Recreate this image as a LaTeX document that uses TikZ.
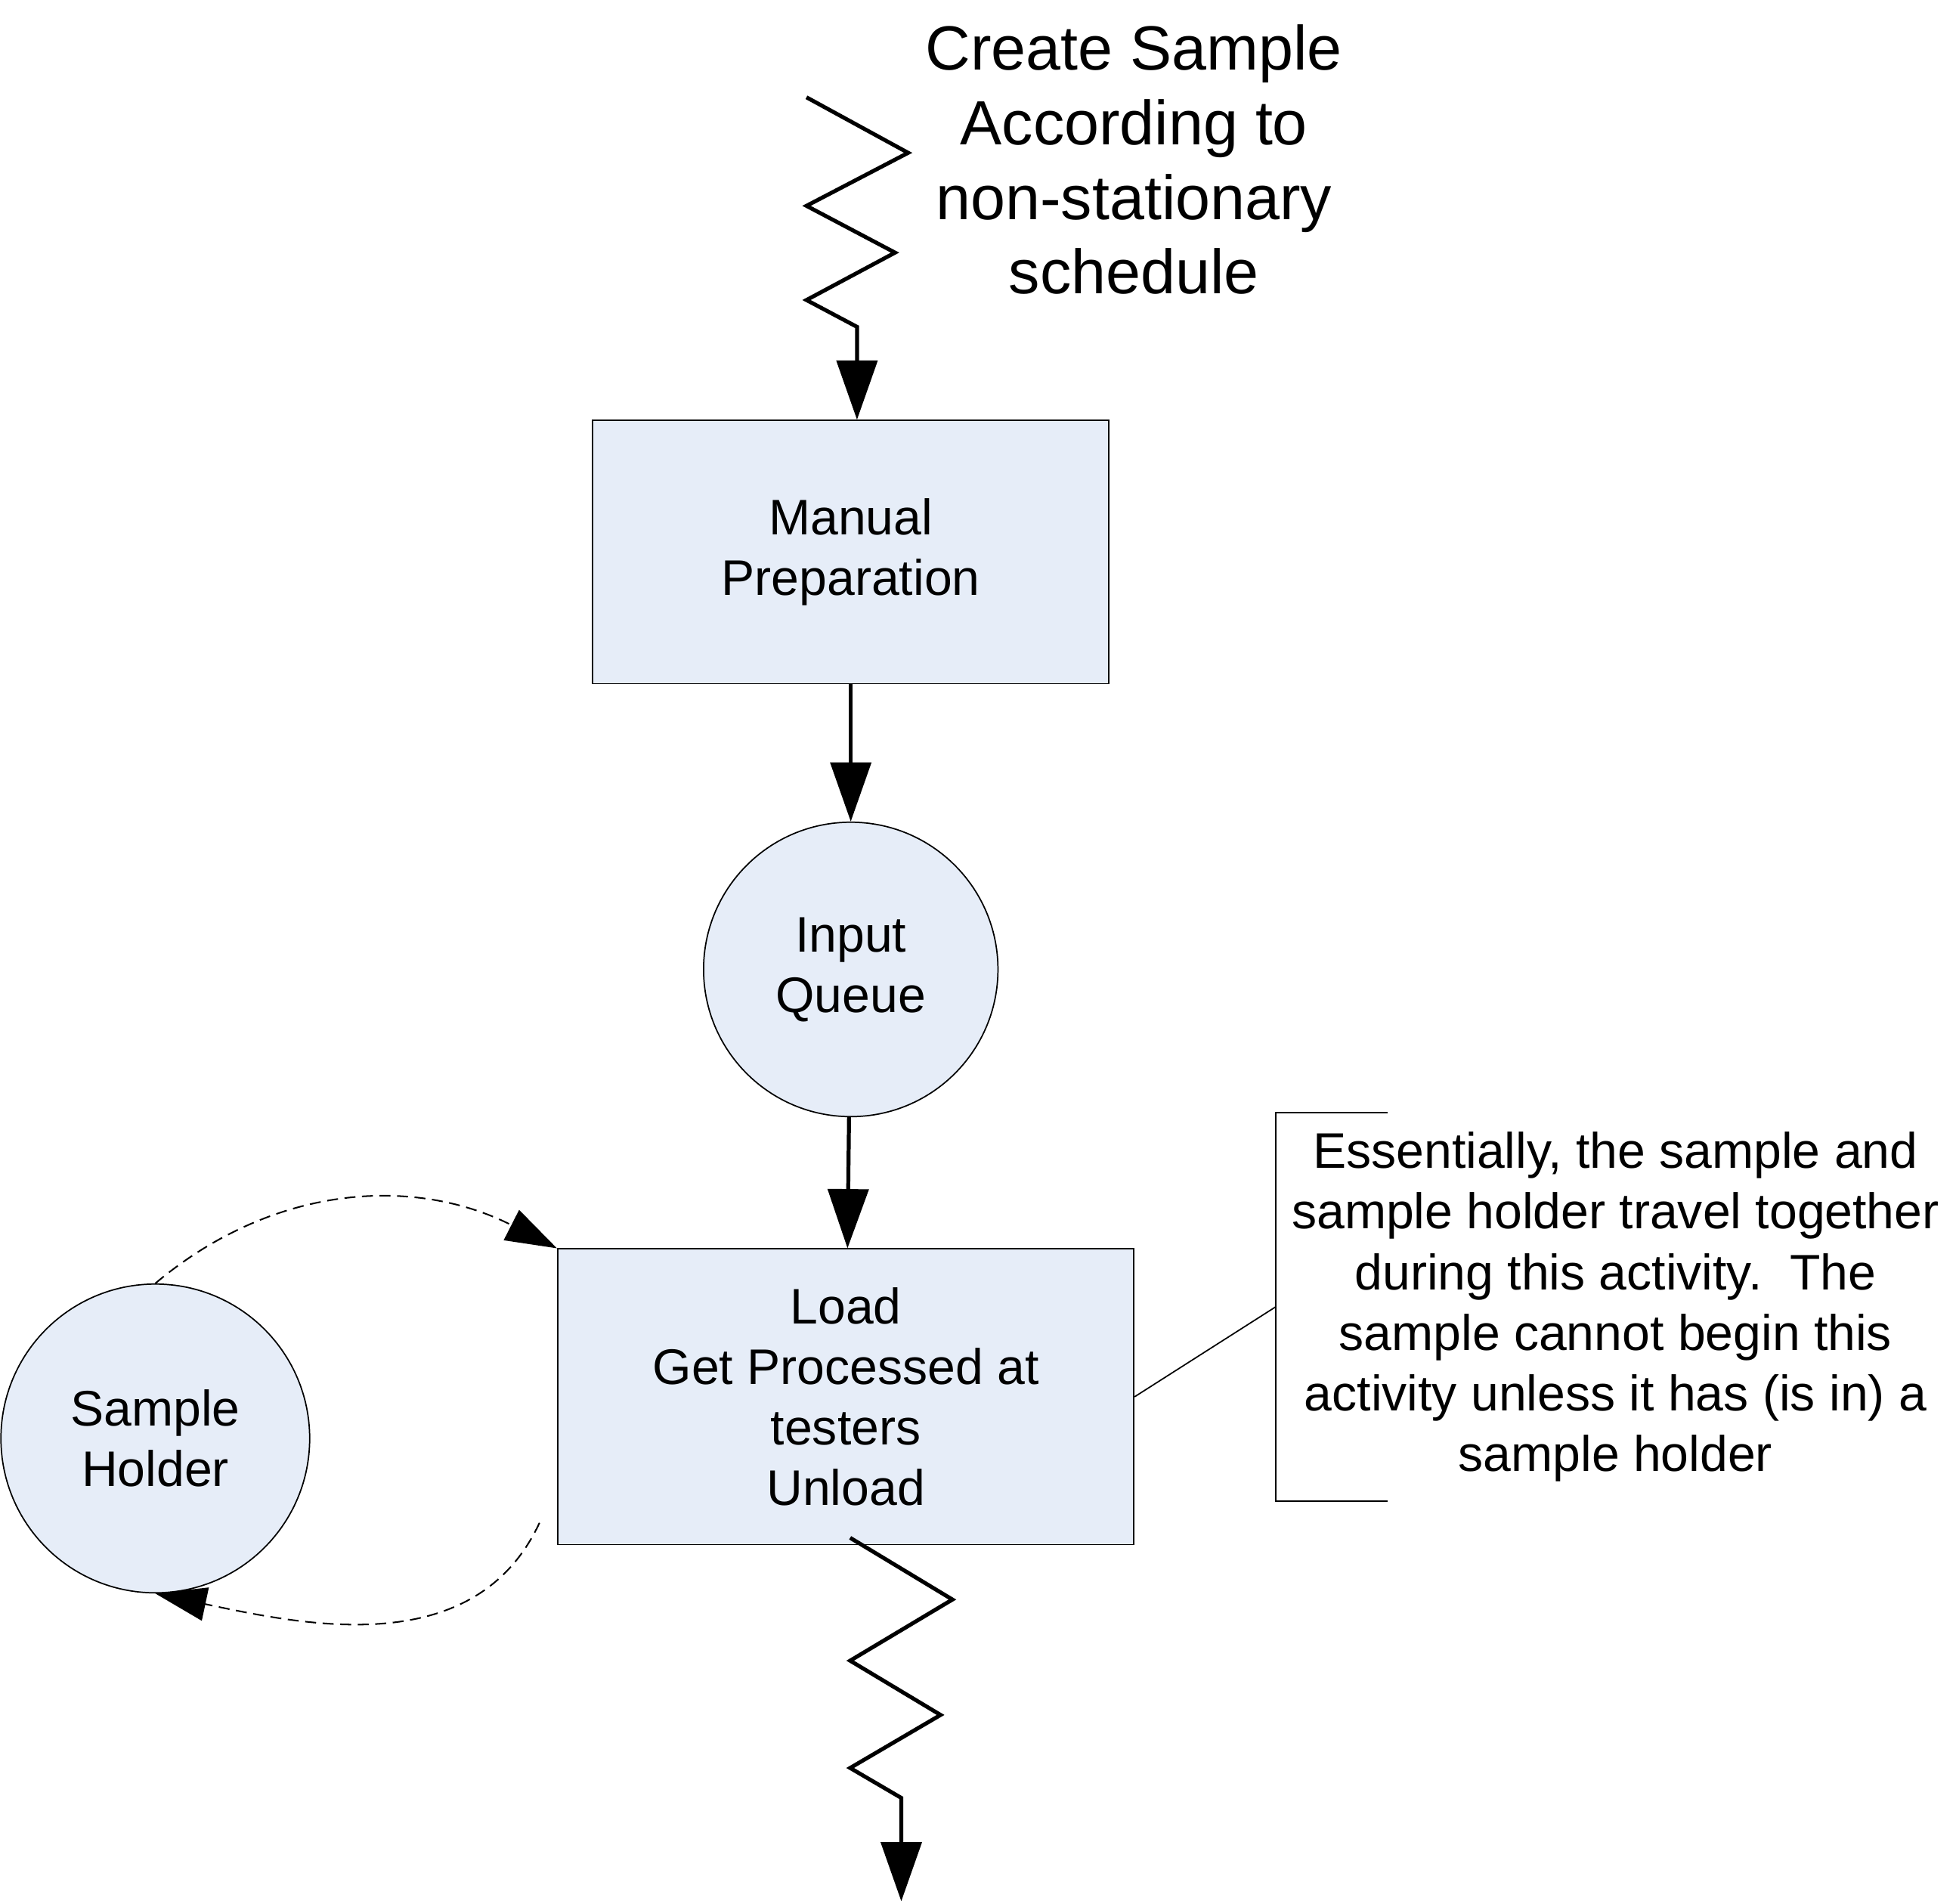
\documentclass[tikz,border=0pt]{standalone}
\usepackage{fontspec}
\setmainfont{Liberation Sans}
\usetikzlibrary{positioning,arrows.meta}
\definecolor{procfill}{RGB}{230,237,248}

\begin{document}
\begin{tikzpicture}[
  every node/.style={align=center, font=\fontsize{22.8pt}{27.6pt}\selectfont},
  proc/.style={rectangle, draw, fill=procfill, line width=0.6pt, inner sep=0pt},
  queue/.style={circle, draw, fill=procfill, line width=0.6pt, inner sep=0pt},
  note/.style={rectangle, minimum width=10.88cm, minimum height=6.22cm, inner sep=0pt},
  arr/.style={-{Triangle[length=0.95cm,width=0.65cm]}, line width=1.8pt},
  arrdash/.style={-{Triangle[length=0.82cm,width=0.54cm]}, line width=0.7pt, dash pattern=on 5pt off 3pt},
  thin line/.style={line width=0.6pt}
]
\useasboundingbox (0,0) rectangle (31.36,-30.52);
% Source: arrivals on a non-stationary schedule
\node[font=\fontsize{28.5pt}{34pt}\selectfont] (src) at (18.18,-2.56) {Create Sample\\According to\\non-stationary\\schedule};
\coordinate (zin) at (12.93,-1.56);
% Main chain
\node[proc, minimum width=8.28cm, minimum height=4.22cm] (prep) at (13.64,-8.85) {Manual\\Preparation};
\node[queue, minimum size=4.72cm, below=2.2cm of prep] (queue) {Input\\Queue};
\node[proc, minimum width=9.24cm, minimum height=4.74cm, below=2.1cm of queue, xshift=-0.08cm] (load) {Load\\Get Processed at\\testers\\Unload};
% Holder loop
\node[queue, minimum size=4.95cm] (holder) at (2.49,-23.06) {Sample\\Holder};
% Annotation
\node[note] (remark) at (25.9,-20.95) {Essentially, the sample and\\sample holder travel together\\during this activity.\ \ The\\sample cannot begin this\\activity unless it has (is in) a\\sample holder};
% Exit
\coordinate (zout) at ([xshift=0.07cm,yshift=0.12cm]load.south);
\coordinate (zend) at (14.45,-30.48);
\coordinate (ret) at ([xshift=-0.28cm,yshift=0.36cm]load.south west);
% Arrows
\draw[arr] (zin) -- ++(1.63,-0.89) -- ++(-1.63,-0.85) -- ++(1.42,-0.75) -- ++(-1.42,-0.76) -- ++(0.81,-0.43) coordinate (zinb) -- (zinb |- prep.north);
\draw[arr] (prep) -- (queue);
\draw[arr] (queue) -- (load);
\draw[arr] (zout) -- ++(1.64,-0.99) -- ++(-1.64,-0.98) -- ++(1.45,-0.87) -- ++(-1.45,-0.85) -- ++(0.82,-0.48) coordinate (zoutb) -- (zoutb |- zend);
\draw[arrdash] (holder.north) to[out=40,in=153] (load.north west);
\draw[arrdash] (ret) to[out=-115,in=-12] (holder.south);
\draw[thin line] (load.east) -- (remark.west);
\draw[thin line] ([xshift=1.8cm]remark.north west) -- (remark.north west) -- (remark.south west) -- ++(1.8,0);
\end{tikzpicture}
\end{document}
